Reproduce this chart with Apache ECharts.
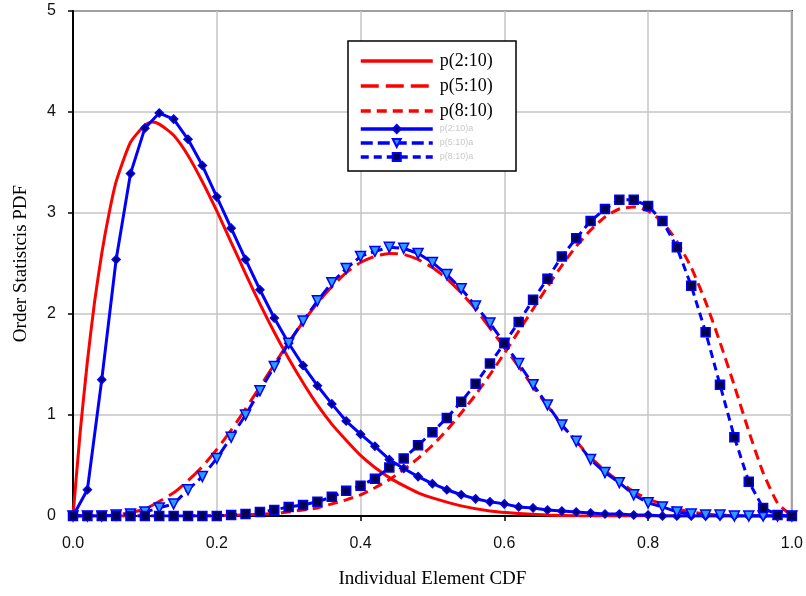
<!DOCTYPE html>
<html>
<head>
<meta charset="utf-8">
<title>Order Statistics PDF</title>
<script src="https://cdn.jsdelivr.net/npm/echarts@6/dist/echarts.min.js"></script>
<style>
	html, body { margin: 0; padding: 0; background: #fff; }
	#chart { width: 806px; height: 596px; }
</style>
</head>
<body>
<div id="chart"></div>
<script>
// Axis ticks:
var xTicks = [0.0, 0.2, 0.4, 0.6, 0.8, 1.0];
var yTicks = [0, 1, 2, 3, 4, 5];

// Legend names:
var redNames = ["p(2:10)", "p(5:10)", "p(8:10)"];
var blueNames = ["p(2:10)a", "p(5:10)a", "p(8:10)a"];

// Red curves:
var xRed2 = [0, 0.01, 0.02, 0.03, 0.04, 0.05, 0.06, 0.08, 0.10, 0.11, 0.12, 0.14, 0.16, 0.18, 0.20,
	0.22, 0.24, 0.26, 0.28, 0.30, 0.32, 0.34, 0.36, 0.38, 0.40, 0.42, 0.44, 0.46, 0.48, 0.50,
	0.54, 0.58, 0.62, 0.66, 0.70, 0.80, 1.0];
var yRed2 = [0, 0.83, 1.53, 2.12, 2.60, 2.99, 3.31, 3.70, 3.87, 3.90, 3.88, 3.77, 3.57, 3.31, 3.02,
	2.71, 2.40, 2.10, 1.82, 1.56, 1.32, 1.10, 0.91, 0.75, 0.60, 0.48, 0.38, 0.30, 0.23, 0.18,
	0.10, 0.05, 0.025, 0.01, 0.003, 0, 0];

var xRed5 = [0, 0.06, 0.10, 0.14, 0.16, 0.18, 0.20, 0.22, 0.24, 0.26, 0.28, 0.30, 0.32, 0.34, 0.36,
	0.38, 0.40, 0.42, 0.44, 0.46, 0.48, 0.50, 0.52, 0.54, 0.56, 0.58, 0.60, 0.62, 0.64, 0.66,
	0.68, 0.70, 0.72, 0.74, 0.76, 0.78, 0.80, 0.84, 0.88, 0.92, 1.0];
var yRed5 = [0, 0.01, 0.07, 0.23, 0.35, 0.49, 0.66, 0.85, 1.06, 1.28, 1.50, 1.72, 1.92, 2.11, 2.27,
	2.41, 2.51, 2.57, 2.60, 2.59, 2.54, 2.46, 2.35, 2.21, 2.05, 1.86, 1.67, 1.48, 1.28, 1.09,
	0.90, 0.74, 0.58, 0.45, 0.34, 0.24, 0.17, 0.07, 0.02, 0.003, 0];

var xRed8 = [0, 0.20, 0.24, 0.28, 0.30, 0.32, 0.34, 0.36, 0.38, 0.40, 0.42, 0.44, 0.46, 0.48, 0.50,
	0.52, 0.54, 0.56, 0.58, 0.60, 0.62, 0.64, 0.66, 0.68, 0.70, 0.72, 0.74, 0.76, 0.78, 0.80,
	0.82, 0.84, 0.86, 0.88, 0.90, 0.92, 0.94, 0.96, 0.98, 1.0];
var yRed8 = [0, 0.003, 0.01, 0.025, 0.04, 0.06, 0.08, 0.12, 0.16, 0.21, 0.28, 0.36, 0.46, 0.57, 0.70,
	0.85, 1.02, 1.20, 1.40, 1.61, 1.83, 2.05, 2.27, 2.48, 2.67, 2.83, 2.96, 3.04, 3.06, 3.02,
	2.91, 2.72, 2.46, 2.12, 1.72, 1.29, 0.84, 0.43, 0.13, 0];

// Blue marker curves, one point every 0.02:
var xBlue = [0, 0.02, 0.04, 0.06, 0.08, 0.10, 0.12, 0.14, 0.16, 0.18, 0.20, 0.22, 0.24, 0.26, 0.28,
	0.30, 0.32, 0.34, 0.36, 0.38, 0.40, 0.42, 0.44, 0.46, 0.48, 0.50, 0.52, 0.54, 0.56, 0.58,
	0.60, 0.62, 0.64, 0.66, 0.68, 0.70, 0.72, 0.74, 0.76, 0.78, 0.80, 0.82, 0.84, 0.86, 0.88,
	0.90, 0.92, 0.94, 0.96, 0.98, 1.0];
var yBlue2 = [0, 0.26, 1.35, 2.54, 3.39, 3.84, 3.99, 3.93, 3.73, 3.47, 3.16, 2.85, 2.54, 2.24, 1.96,
	1.71, 1.49, 1.29, 1.11, 0.94, 0.81, 0.69, 0.56, 0.47, 0.39, 0.32, 0.26, 0.21, 0.17, 0.14,
	0.12, 0.09, 0.08, 0.06, 0.05, 0.04, 0.03, 0.02, 0.02, 0.01, 0.01, 0, 0, 0, 0,
	0, 0, 0, 0, 0, 0];
var yBlue5 = [0, 0, 0, 0.01, 0.02, 0.04, 0.08, 0.12, 0.26, 0.39, 0.57, 0.78, 1.00, 1.24, 1.48,
	1.71, 1.93, 2.13, 2.31, 2.45, 2.57, 2.62, 2.66, 2.65, 2.60, 2.51, 2.39, 2.25, 2.08, 1.91,
	1.71, 1.51, 1.30, 1.10, 0.90, 0.74, 0.56, 0.43, 0.33, 0.21, 0.13, 0.09, 0.04, 0.02, 0.01,
	0.01, 0, 0, 0, 0, 0];
var yBlue8 = [0, 0, 0, 0, 0, 0, 0, 0, 0, 0, 0, 0.01, 0.02, 0.04, 0.06,
	0.09, 0.11, 0.14, 0.19, 0.25, 0.30, 0.37, 0.48, 0.57, 0.70, 0.83, 0.97, 1.13, 1.31, 1.51,
	1.71, 1.92, 2.14, 2.35, 2.57, 2.75, 2.92, 3.04, 3.13, 3.13, 3.07, 2.92, 2.66, 2.28, 1.82,
	1.30, 0.78, 0.34, 0.08, 0.01, 0];


// Pairs x and y lists into [x, y] points:
function pairs(xs, ys) {
	return xs.map(function (x, i) {
		return [x, ys[i]];
	});
}

// Red line series (no markers):
function redSeries(name, xs, ys, dash) {
	return {
		name: name,
		type: 'line',
		data: pairs(xs, ys),
		symbol: 'none',
		smooth: 0.2,
		lineStyle: { color: '#ff0000', width: 3, type: dash },
		itemStyle: { color: '#ff0000' }
	};
}

// Blue line series with markers:
function blueSeries(name, ys, dash, symbol, size, fill, rotate) {
	return {
		name: name,
		type: 'line',
		data: pairs(xBlue, ys),
		symbol: symbol,
		symbolSize: size,
		symbolRotate: rotate || 0,
		showAllSymbol: true,
		lineStyle: { color: '#0000ff', width: 3, type: dash },
		itemStyle: { color: fill, borderColor: '#0000ff', borderWidth: 1.5 }
	};
}


var chart = echarts.init(document.getElementById('chart'));

var option = {
	animation: false,
	backgroundColor: '#ffffff',
	grid: {
		left: 73,
		right: 12,
		top: 11,
		bottom: 80,
		show: true,
		borderColor: '#333333',
		borderWidth: 2
	},
	xAxis: {
		type: 'value',
		min: xTicks[0],
		max: xTicks[xTicks.length - 1],
		interval: 0.2,
		name: 'Individual Element CDF',
		nameLocation: 'middle',
		nameGap: 54,
		nameTextStyle: { fontFamily: 'Liberation Serif', fontSize: 19, color: '#000' },
		axisLine: { lineStyle: { color: '#000', width: 2 } },
		axisTick: { length: 5, lineStyle: { color: '#000', width: 1.5 } },
		axisLabel: {
			margin: 20,
			fontFamily: 'Liberation Sans',
			fontSize: 16,
			color: '#111',
			formatter: function (v) { return v.toFixed(1); }
		},
		splitLine: { show: true, lineStyle: { color: '#c4c4c4', width: 1.5 } }
	},
	yAxis: {
		type: 'value',
		min: yTicks[0],
		max: yTicks[yTicks.length - 1],
		interval: 1,
		name: 'Order Statistcis PDF',
		nameLocation: 'middle',
		nameGap: 42,
		nameTextStyle: { fontFamily: 'Liberation Serif', fontSize: 19, color: '#000' },
		axisLine: { lineStyle: { color: '#000', width: 2 } },
		axisTick: { show: true, length: 5, lineStyle: { color: '#000', width: 1.5 } },
		axisLabel: { margin: 17, fontFamily: 'Liberation Sans', fontSize: 16, color: '#111' },
		splitLine: { show: true, lineStyle: { color: '#c4c4c4', width: 1.5 } }
	},
	// Legend frame:
	graphic: [{
		type: 'rect',
		z: 3,
		shape: { x: 348, y: 41, width: 168, height: 130 },
		style: { fill: '#ffffff', stroke: '#000000', lineWidth: 1.5 }
	}],
	legend: [{
		data: redNames,
		orient: 'vertical',
		left: 354,
		top: 47,
		itemWidth: 72,
		itemHeight: 14,
		itemGap: 7,
		// Hides the marker drawn on plain lines:
		itemStyle: { opacity: 0 },
		lineStyle: { width: 3.5 },
		textStyle: { fontFamily: 'Liberation Serif', fontSize: 18, color: '#000', padding: [0, 0, 0, 2] }
	}, {
		data: blueNames,
		orient: 'vertical',
		left: 354,
		top: 119,
		itemWidth: 72,
		itemHeight: 10,
		itemGap: 4,
		lineStyle: { width: 3.5 },
		textStyle: { fontFamily: 'Liberation Sans', fontSize: 9, color: '#c8c8c8', padding: [0, 0, 0, 2] }
	}],
	series: [
		redSeries(redNames[0], xRed2, yRed2, 'solid'),
		redSeries(redNames[1], xRed5, yRed5, [18, 7]),
		redSeries(redNames[2], xRed8, yRed8, [10, 6]),
		blueSeries(blueNames[0], yBlue2, 'solid', 'diamond', 8, '#000066'),
		blueSeries(blueNames[1], yBlue5, [12, 5], 'triangle', 10, '#2a9dff', 180),
		blueSeries(blueNames[2], yBlue8, [8, 5], 'rect', 9, '#000050')
	]
};

chart.setOption(option);
</script>
</body>
</html>
